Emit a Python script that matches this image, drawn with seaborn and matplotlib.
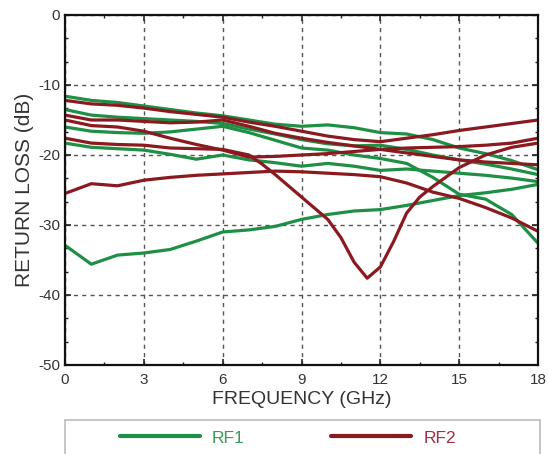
import pandas as pd
import seaborn as sns
import matplotlib.pyplot as plt
from matplotlib.ticker import MultipleLocator, AutoMinorLocator
from matplotlib.patches import Rectangle
from matplotlib.lines import Line2D

# frequency grid (GHz) shared by most traces
freq = list(range(0, 19))

# RF1 traces (green) at 1 GHz steps
rf1_a = [-11.6, -12.2, -12.5, -13.0, -13.5, -14.0, -14.4, -15.0, -15.6, -15.9,
         -15.7, -16.1, -16.8, -17.0, -17.8, -19.0, -19.8, -20.8, -22.1]
rf1_b = [-13.5, -14.3, -14.6, -14.8, -15.0, -15.2, -15.5, -16.3, -17.0, -17.8,
         -18.4, -18.7, -18.6, -19.2, -20.0, -20.7, -21.3, -22.0, -22.8]
rf1_c = [-16.0, -16.6, -16.8, -16.9, -16.7, -16.3, -15.9, -16.8, -17.9, -19.0,
         -19.3, -20.0, -20.5, -21.2, -23.2, -25.6, -26.3, -28.5, -32.6]
rf1_d = [-18.3, -18.9, -19.1, -19.3, -19.9, -20.6, -20.0, -20.7, -21.1, -21.6,
         -21.2, -21.6, -22.2, -22.0, -22.3, -22.6, -22.9, -23.3, -23.8]
rf1_e = [-32.9, -35.6, -34.3, -34.0, -33.5, -32.3, -31.0, -30.7, -30.2, -29.2,
         -28.5, -28.0, -27.8, -27.2, -26.5, -25.8, -25.4, -24.9, -24.2]

# RF2 traces (dark red)
rf2_a = [-12.2, -12.7, -12.9, -13.3, -13.8, -14.2, -14.6, -15.3, -15.9, -16.6,
         -17.3, -17.8, -18.1, -17.6, -17.1, -16.5, -16.0, -15.5, -15.0]
rf2_b = [-14.3, -15.0, -15.0, -15.2, -15.4, -15.3, -15.0, -15.9, -16.9, -17.6,
         -18.2, -18.7, -19.2, -19.7, -20.2, -20.7, -21.0, -21.2, -21.4]
rf2_c = [-15.0, -15.8, -16.0, -16.6, -17.6, -18.5, -19.3, -20.3, -20.2, -20.0,
         -19.8, -19.5, -19.2, -19.0, -18.9, -18.8, -18.6, -18.3, -17.6]
rf2_e = [-25.5, -24.1, -24.4, -23.6, -23.2, -22.9, -22.7, -22.5, -22.3, -22.4,
         -22.6, -22.8, -23.1, -24.0, -25.3, -26.2, -27.5, -29.0, -30.9]

# the resonance trace needs a finer frequency grid around the dip
freq_dip = [0, 1, 2, 3, 4, 5, 6, 6.5, 7, 7.5, 8, 8.5, 9, 9.5, 10, 10.5, 11,
            11.5, 12, 12.5, 13, 13.5, 14, 15, 16, 17, 18]
rf2_d = [-17.6, -18.3, -18.5, -18.6, -19.0, -19.1, -19.2, -19.6, -20.0, -21.3,
         -22.8, -24.4, -26.0, -27.6, -29.2, -31.8, -35.3, -37.6, -36.0, -32.4,
         -28.3, -26.0, -24.5, -21.8, -20.0, -18.9, -18.3]

traces = {
    ("RF1", "a"): (freq, rf1_a), ("RF1", "b"): (freq, rf1_b),
    ("RF1", "c"): (freq, rf1_c), ("RF1", "d"): (freq, rf1_d),
    ("RF1", "e"): (freq, rf1_e),
    ("RF2", "a"): (freq, rf2_a), ("RF2", "b"): (freq, rf2_b),
    ("RF2", "c"): (freq, rf2_c), ("RF2", "d"): (freq_dip, rf2_d),
    ("RF2", "e"): (freq, rf2_e),
}

rows = []
for (grp, key), (xs, ys) in traces.items():
    for x, y in zip(xs, ys):
        rows.append({"group": grp, "curve": grp + key, "freq": x, "loss": y})
df = pd.DataFrame(rows)

green = "#1f8f45"
red = "#8a1a1f"

sns.set_style("ticks")
plt.rcParams["font.family"] = ["Liberation Sans", "DejaVu Sans"]
plt.rcParams["axes.unicode_minus"] = False

fig = plt.figure(figsize=(5.48, 4.54), dpi=100)
ax = fig.add_axes([65 / 548, 1 - 365 / 454, 473 / 548, 350 / 454])

sns.lineplot(data=df, x="freq", y="loss", hue="group", units="curve",
             estimator=None, sort=False, palette={"RF1": green, "RF2": red},
             lw=2.3, legend=False, ax=ax)

ax.set_xlim(0, 18)
ax.set_ylim(-50, 0)
ax.xaxis.set_major_locator(MultipleLocator(3))
ax.yaxis.set_major_locator(MultipleLocator(10))
ax.xaxis.set_minor_locator(AutoMinorLocator(2))
ax.yaxis.set_minor_locator(AutoMinorLocator(3))
ax.tick_params(which="both", direction="in", top=True, right=True,
               colors="#222222", labelcolor="#333333", labelsize=11)
ax.tick_params(axis="x", pad=6)
ax.tick_params(which="major", length=4, width=1.2)
ax.tick_params(which="minor", length=2.5, width=1)
ax.grid(True, which="major", color="#555555", linestyle=(0, (3, 3)), lw=1.0)
for sp in ax.spines.values():
    sp.set_linewidth(1.6)
    sp.set_color("#111111")

ax.set_xlabel("FREQUENCY (GHz)", fontsize=14, color="#333333", labelpad=3)
ax.set_ylabel("RETURN LOSS (dB)", fontsize=15, color="#333333", labelpad=3)

# legend box runs off the bottom of the image
fig.patches.append(Rectangle((65 / 548, -0.05), 475 / 548, 0.05 + 1 - 420 / 454,
                             transform=fig.transFigure, fill=False,
                             edgecolor="#bbbbbb", lw=1.2))
handles = [Line2D([], [], color=green, lw=3), Line2D([], [], color=red, lw=3)]
leg = fig.legend(handles, ["RF1", "RF2"], loc="center", ncol=2, frameon=False,
                 bbox_to_anchor=(288 / 548, 1 - 438 / 454), fontsize=12.5,
                 handlelength=4.6, handletextpad=0.7, columnspacing=5.0)
for txt, c in zip(leg.get_texts(), ["#3a9a5a", "#a03040"]):
    txt.set_color(c)

fig.savefig("out.png", dpi=100)
